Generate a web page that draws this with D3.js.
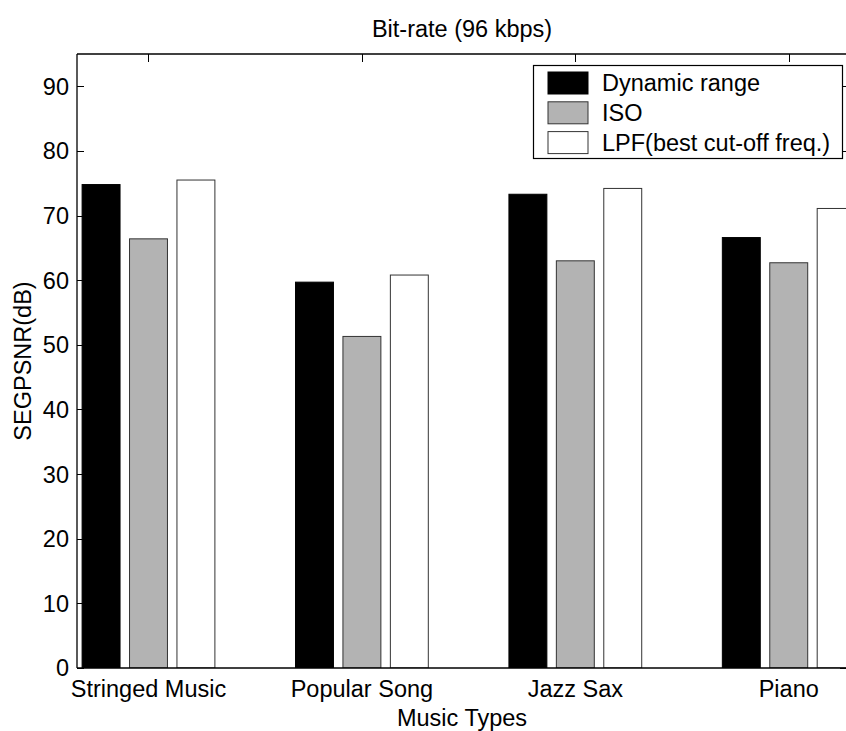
<!DOCTYPE html>
<html>
<head>
<meta charset="utf-8">
<script src="https://cdn.jsdelivr.net/npm/d3@7"></script>
<style>
  html, body { margin: 0; padding: 0; background: #fff; }
  svg { display: block; font-family: "Liberation Sans", Arial, Helvetica, sans-serif; }
</style>
</head>
<body>
<svg id="chart" width="846" height="731"></svg>
<script>
// Segmental PSNR per music type at 96 kbps
const categories = ["Stringed Music", "Popular Song", "Jazz Sax", "Piano"];
const seriesNames = ["Dynamic range", "ISO", "LPF(best cut-off freq.)"];
const dynamicRange = [74.8, 59.7, 73.3, 66.6];
const iso = [66.4, 51.3, 63.0, 62.7];
const lpf = [75.5, 60.8, 74.2, 71.1];
const yTicks = [0, 10, 20, 30, 40, 50, 60, 70, 80, 90];

const seriesValues = [dynamicRange, iso, lpf];
const fills = ["#000000", "#b3b3b3", "#ffffff"];
const strokes = ["#000000", "#333333", "#333333"];

const svg = d3.select("#chart");
const plot = { left: 77, right: 847, top: 54, bottom: 668 };
const fontSize = 23.5;

// category index (1-based) on a numeric axis, like a grouped bar plot
const x = d3.scaleLinear().domain([0.665, 4.273]).range([plot.left, plot.right]);
const y = d3.scaleLinear().domain([0, 95]).range([plot.bottom, plot.top]);

const nSeries = seriesValues.length;
const groupWidth = Math.min(0.8, nSeries / (nSeries + 1.5));
const step = groupWidth / nSeries;
const barW = step * 0.8;

svg.append("defs").append("clipPath").attr("id", "plotClip")
  .append("rect")
  .attr("x", plot.left).attr("y", plot.top)
  .attr("width", plot.right - plot.left).attr("height", plot.bottom - plot.top);

// tick marks (drawn under the bars)
const ticks = svg.append("g").attr("stroke", "#000").attr("stroke-width", 1);
yTicks.forEach(t => {
  const yy = Math.round(y(t)) + 0.5;
  ticks.append("line").attr("x1", plot.left).attr("x2", plot.left + 7).attr("y1", yy).attr("y2", yy);
  ticks.append("line").attr("x1", plot.right - 7).attr("x2", plot.right).attr("y1", yy).attr("y2", yy);
});
categories.forEach((c, i) => {
  const xx = Math.round(x(i + 1)) + 0.5;
  ticks.append("line").attr("x1", xx).attr("x2", xx).attr("y1", plot.top).attr("y2", plot.top + 8);
  ticks.append("line").attr("x1", xx).attr("x2", xx).attr("y1", plot.bottom).attr("y2", plot.bottom - 8);
});

// bars
const bars = svg.append("g").attr("clip-path", "url(#plotClip)");
seriesValues.forEach((vals, s) => {
  const off = (s - (nSeries - 1) / 2) * step;
  bars.selectAll(null)
    .data(vals)
    .join("rect")
    .attr("x", (d, i) => x(i + 1 + off - barW / 2))
    .attr("width", x(barW) - x(0))
    .attr("y", d => y(d))
    .attr("height", d => y(0) - y(d))
    .attr("fill", fills[s])
    .attr("stroke", strokes[s])
    .attr("stroke-width", 1);
});

// axes box
const box = svg.append("g").attr("fill", "none").attr("stroke", "#000").attr("stroke-width", 1.3);
box.append("line").attr("x1", plot.left).attr("x2", plot.left).attr("y1", plot.top).attr("y2", plot.bottom);
box.append("line").attr("x1", plot.left).attr("x2", plot.right).attr("y1", plot.bottom).attr("y2", plot.bottom);
box.append("line").attr("x1", plot.left).attr("x2", plot.right).attr("y1", plot.top).attr("y2", plot.top);
box.append("line").attr("x1", plot.right).attr("x2", plot.right).attr("y1", plot.top).attr("y2", plot.bottom);

// y tick labels
svg.append("g").selectAll("text")
  .data(yTicks)
  .join("text")
  .attr("x", plot.left - 8)
  .attr("y", d => y(d))
  .attr("dy", "0.36em")
  .attr("text-anchor", "end")
  .attr("font-size", fontSize)
  .text(d => d);

// x tick labels
svg.append("g").selectAll("text")
  .data(categories)
  .join("text")
  .attr("x", (d, i) => x(i + 1))
  .attr("y", 697)
  .attr("text-anchor", "middle")
  .attr("font-size", fontSize)
  .text(d => d);

// axis titles
svg.append("text")
  .attr("x", (plot.left + plot.right) / 2)
  .attr("y", 726)
  .attr("text-anchor", "middle")
  .attr("font-size", fontSize)
  .text("Music Types");

svg.append("text")
  .attr("transform", `translate(31, ${(plot.top + plot.bottom) / 2}) rotate(-90)`)
  .attr("text-anchor", "middle")
  .attr("font-size", fontSize)
  .text("SEGPSNR(dB)");

svg.append("text")
  .attr("x", (plot.left + plot.right) / 2)
  .attr("y", 37)
  .attr("text-anchor", "middle")
  .attr("font-size", fontSize)
  .text("Bit-rate (96 kbps)");

// legend
const legend = svg.append("g");
legend.append("rect")
  .attr("x", 533.5).attr("y", 65.5).attr("width", 309).attr("height", 93)
  .attr("fill", "#fff").attr("stroke", "#000").attr("stroke-width", 1.2);
seriesNames.forEach((name, s) => {
  const cy = 83 + s * 29.8;
  legend.append("rect")
    .attr("x", 548).attr("y", cy - 11).attr("width", 40).attr("height", 22)
    .attr("fill", fills[s]).attr("stroke", strokes[s]).attr("stroke-width", 1);
  legend.append("text")
    .attr("x", 602).attr("y", cy).attr("dy", "0.36em")
    .attr("font-size", fontSize)
    .text(name);
});
</script>
</body>
</html>
